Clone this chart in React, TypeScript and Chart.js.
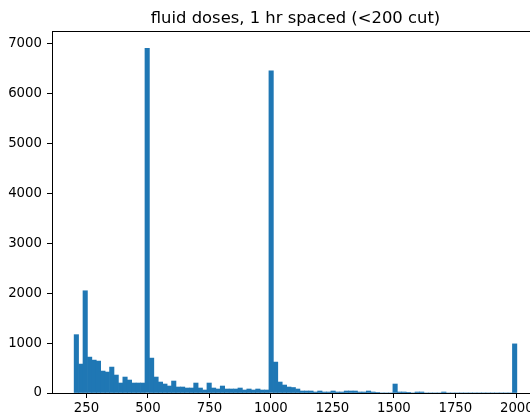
import React, { useEffect, useRef } from "react";
import { Chart, registerables } from "chart.js";

Chart.register(...registerables);

const TITLE = "fluid doses, 1 hr spaced (<200 cut)";
const BIN_START = 200;
const BIN_WIDTH = 18;
const COUNTS = [
  1170, 580, 2050, 720, 660, 640, 440, 420, 520, 360,
  200, 320, 260, 200, 200, 200, 6910, 700, 320, 220,
  180, 140, 240, 120, 120, 100, 100, 200, 100, 60,
  200, 100, 80, 140, 80, 80, 80, 100, 60, 80,
  60, 80, 60, 60, 6460, 620, 220, 160, 120, 110,
  80, 40, 40, 40, 20, 40, 20, 20, 40, 20,
  20, 40, 40, 40, 20, 20, 40, 20, 8, 0,
  0, 0, 180, 20, 20, 5, 0, 20, 20, 0,
  0, 0, 0, 20, 0, 0, 0, 0, 0, 0,
  0, 0, 0, 0, 0, 0, 0, 0, 0, 985,
];
const X_TICKS = [250, 500, 750, 1000, 1250, 1500, 1750, 2000];
const Y_TICKS = [0, 1000, 2000, 3000, 4000, 5000, 6000, 7000];
const X_MIN = 110;
const X_MAX = 2090;
const Y_MAX = 7259;

const FONT = "'DejaVu Sans', sans-serif";

const framePlugin = {
  id: "frame",
  afterDraw(chart: any) {
    const { ctx, chartArea } = chart;
    ctx.save();
    ctx.strokeStyle = "#000";
    ctx.lineWidth = 1;
    ctx.beginPath();
    ctx.moveTo(Math.round(chartArea.left) + 0.5, Math.round(chartArea.top) + 0.5);
    ctx.lineTo(Math.round(chartArea.right) + 0.5, Math.round(chartArea.top) + 0.5);
    ctx.lineTo(Math.round(chartArea.right) + 0.5, Math.round(chartArea.bottom) + 0.5);
    ctx.stroke();
    ctx.fillStyle = "#000";
    ctx.font = `16.4px ${FONT}`;
    ctx.textAlign = "center";
    ctx.textBaseline = "alphabetic";
    ctx.fillText(TITLE, (chartArea.left + chartArea.right) / 2, chartArea.top - 8);
    ctx.restore();
  },
};

export default function App() {
  const ref = useRef<HTMLCanvasElement>(null);
  useEffect(() => {
    const data = COUNTS.map((c, i) => ({ x: BIN_START + BIN_WIDTH * (i + 0.5), y: c }));
    const chart = new Chart(ref.current as HTMLCanvasElement, {
      type: "bar",
      data: {
        datasets: [
          {
            data: data as any,
            backgroundColor: "#1f77b4",
            borderWidth: 0,
            barPercentage: 1,
            categoryPercentage: 1,
          },
        ],
      },
      options: {
        responsive: false,
        animation: false,
        layout: { padding: { left: 0, right: 21, top: 31, bottom: 0 } },
        plugins: {
          legend: { display: false },
          tooltip: { enabled: false },
          title: { display: false },
        },
        scales: {
          x: {
            type: "linear",
            offset: false,
            min: X_MIN,
            max: X_MAX,
            afterBuildTicks: (s: any) => {
              s.ticks = X_TICKS.map((v) => ({ value: v }));
            },
            afterFit: (s: any) => {
              s.height = 22;
            },
            grid: { offset: false, drawOnChartArea: false, drawTicks: true, tickLength: 5, color: "#000" },
            border: { display: true, color: "#000", width: 1 },
            ticks: {
              color: "#000",
              font: { family: FONT, size: 13.3 },
              padding: 3,
              maxRotation: 0,
              autoSkip: false,
              callback: (v: any) => String(v),
            },
          },
          y: {
            type: "linear",
            min: 0,
            max: Y_MAX,
            afterBuildTicks: (s: any) => {
              s.ticks = Y_TICKS.map((v) => ({ value: v }));
            },
            afterFit: (s: any) => {
              s.width = 52;
            },
            grid: { drawOnChartArea: false, drawTicks: true, tickLength: 5, color: "#000" },
            border: { display: true, color: "#000", width: 1 },
            ticks: {
              color: "#000",
              font: { family: FONT, size: 13.3 },
              padding: 5,
              autoSkip: false,
              callback: (v: any) => String(v),
            },
          },
        },
      },
      plugins: [framePlugin],
    });
    return () => chart.destroy();
  }, []);
  return (
    <div style={{ position: "fixed", left: 0, top: 0, width: 530, height: 415, overflow: "hidden", background: "#fff" }}>
      <canvas ref={ref} width={560} height={415} style={{ display: "block" }} />
    </div>
  );
}
